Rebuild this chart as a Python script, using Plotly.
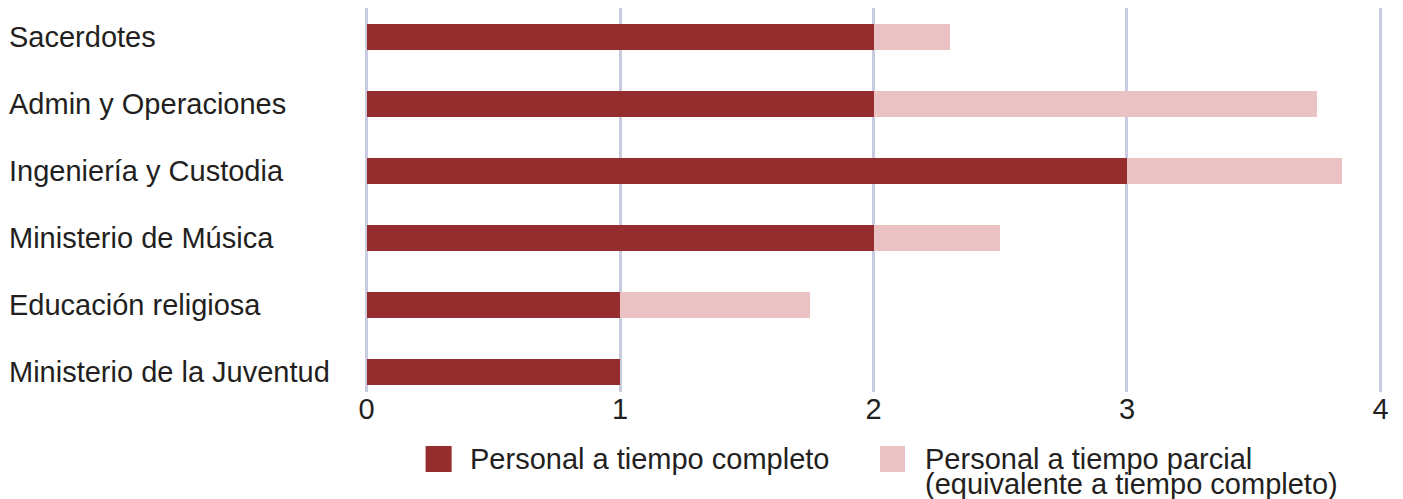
import plotly.graph_objects as go

categories = ["Sacerdotes", "Admin y Operaciones", "Ingeniería y Custodia",
              "Ministerio de Música", "Educación religiosa", "Ministerio de la Juventud"]
full_time = [2, 2, 3, 2, 1, 1]
part_time = [0.3, 1.75, 0.85, 0.5, 0.75, 0]
series_names = ["Personal a tiempo completo", "Personal a tiempo parcial",
                "(equivalente a tiempo completo)"]
x_ticks = [0, 1, 2, 3, 4]

DARK = "#952D2F"
LIGHT = "#EBC2C3"
TEXT = "#231F20"
GRID = "#C9CCE0"
FONT = "Liberation Sans, Arial, sans-serif"
FS = 29

OFF = 8            # page body margin
W, H = 1403 - OFF, 499 - OFF
EPS = 0.01         # tiny range padding so edge gridlines are drawn
L0, R0, T, B = 367, 1380, 8, 392     # page pixel positions of x=0, x=4, plot top, plot bottom
unit = (R0 - L0) / 4
L = L0 - EPS * unit
R = R0 + EPS * unit

def px(xp):
    return (xp - L) / (R - L)

def py(yp):
    return (B - yp) / (B - T)

fig = go.Figure()
fig.add_trace(go.Bar(y=categories, x=full_time, orientation="h", name=series_names[0],
                     marker=dict(color=DARK, line=dict(width=0)), width=0.4))
fig.add_trace(go.Bar(y=categories, x=part_time, orientation="h", name=series_names[1],
                     marker=dict(color=LIGHT, line=dict(width=0)), width=0.4))

annotations = []
for c in categories:
    annotations.append(dict(x=px(8), xref="paper", y=c, yref="y", text=c, showarrow=False,
                            xanchor="left", yanchor="middle",
                            font=dict(family=FONT, size=FS, color=TEXT)))

# custom legend
annotations.append(dict(x=px(468), xref="paper", y=py(459), yref="paper", text=series_names[0],
                        showarrow=False, xanchor="left", yanchor="middle",
                        font=dict(family=FONT, size=FS, color=TEXT)))
annotations.append(dict(x=px(923), xref="paper", y=py(459), yref="paper", text=series_names[1],
                        showarrow=False, xanchor="left", yanchor="middle",
                        font=dict(family=FONT, size=FS, color=TEXT)))
annotations.append(dict(x=px(923), xref="paper", y=py(484), yref="paper", text=series_names[2],
                        showarrow=False, xanchor="left", yanchor="middle",
                        font=dict(family=FONT, size=FS, color=TEXT)))

shapes = [
    dict(type="rect", xref="paper", yref="paper", x0=px(426), x1=px(452), y0=py(472), y1=py(446),
         fillcolor=DARK, line=dict(width=0)),
    dict(type="rect", xref="paper", yref="paper", x0=px(880), x1=px(905), y0=py(472), y1=py(446),
         fillcolor=LIGHT, line=dict(width=0)),
]

fig.update_layout(
    width=W, height=H, barmode="stack", showlegend=False,
    margin=dict(l=L - OFF, r=W - (R - OFF), t=T - OFF, b=H - (B - OFF), pad=0),
    paper_bgcolor="white", plot_bgcolor="white",
    font=dict(family=FONT, size=FS, color=TEXT),
    xaxis=dict(range=[-EPS, 4 + EPS], tickvals=x_ticks, ticktext=[str(v) for v in x_ticks],
               showgrid=True, gridcolor=GRID, gridwidth=2.5, zeroline=False,
               showline=False, ticks="", ticklabelstandoff=-3,
               tickfont=dict(family=FONT, size=FS, color=TEXT)),
    yaxis=dict(type="category", categoryorder="array", categoryarray=categories,
               range=[5.3, -0.433], showticklabels=False, showgrid=False,
               zeroline=False, showline=False, ticks=""),
    annotations=annotations, shapes=shapes,
)

fig.write_html("out.html")
